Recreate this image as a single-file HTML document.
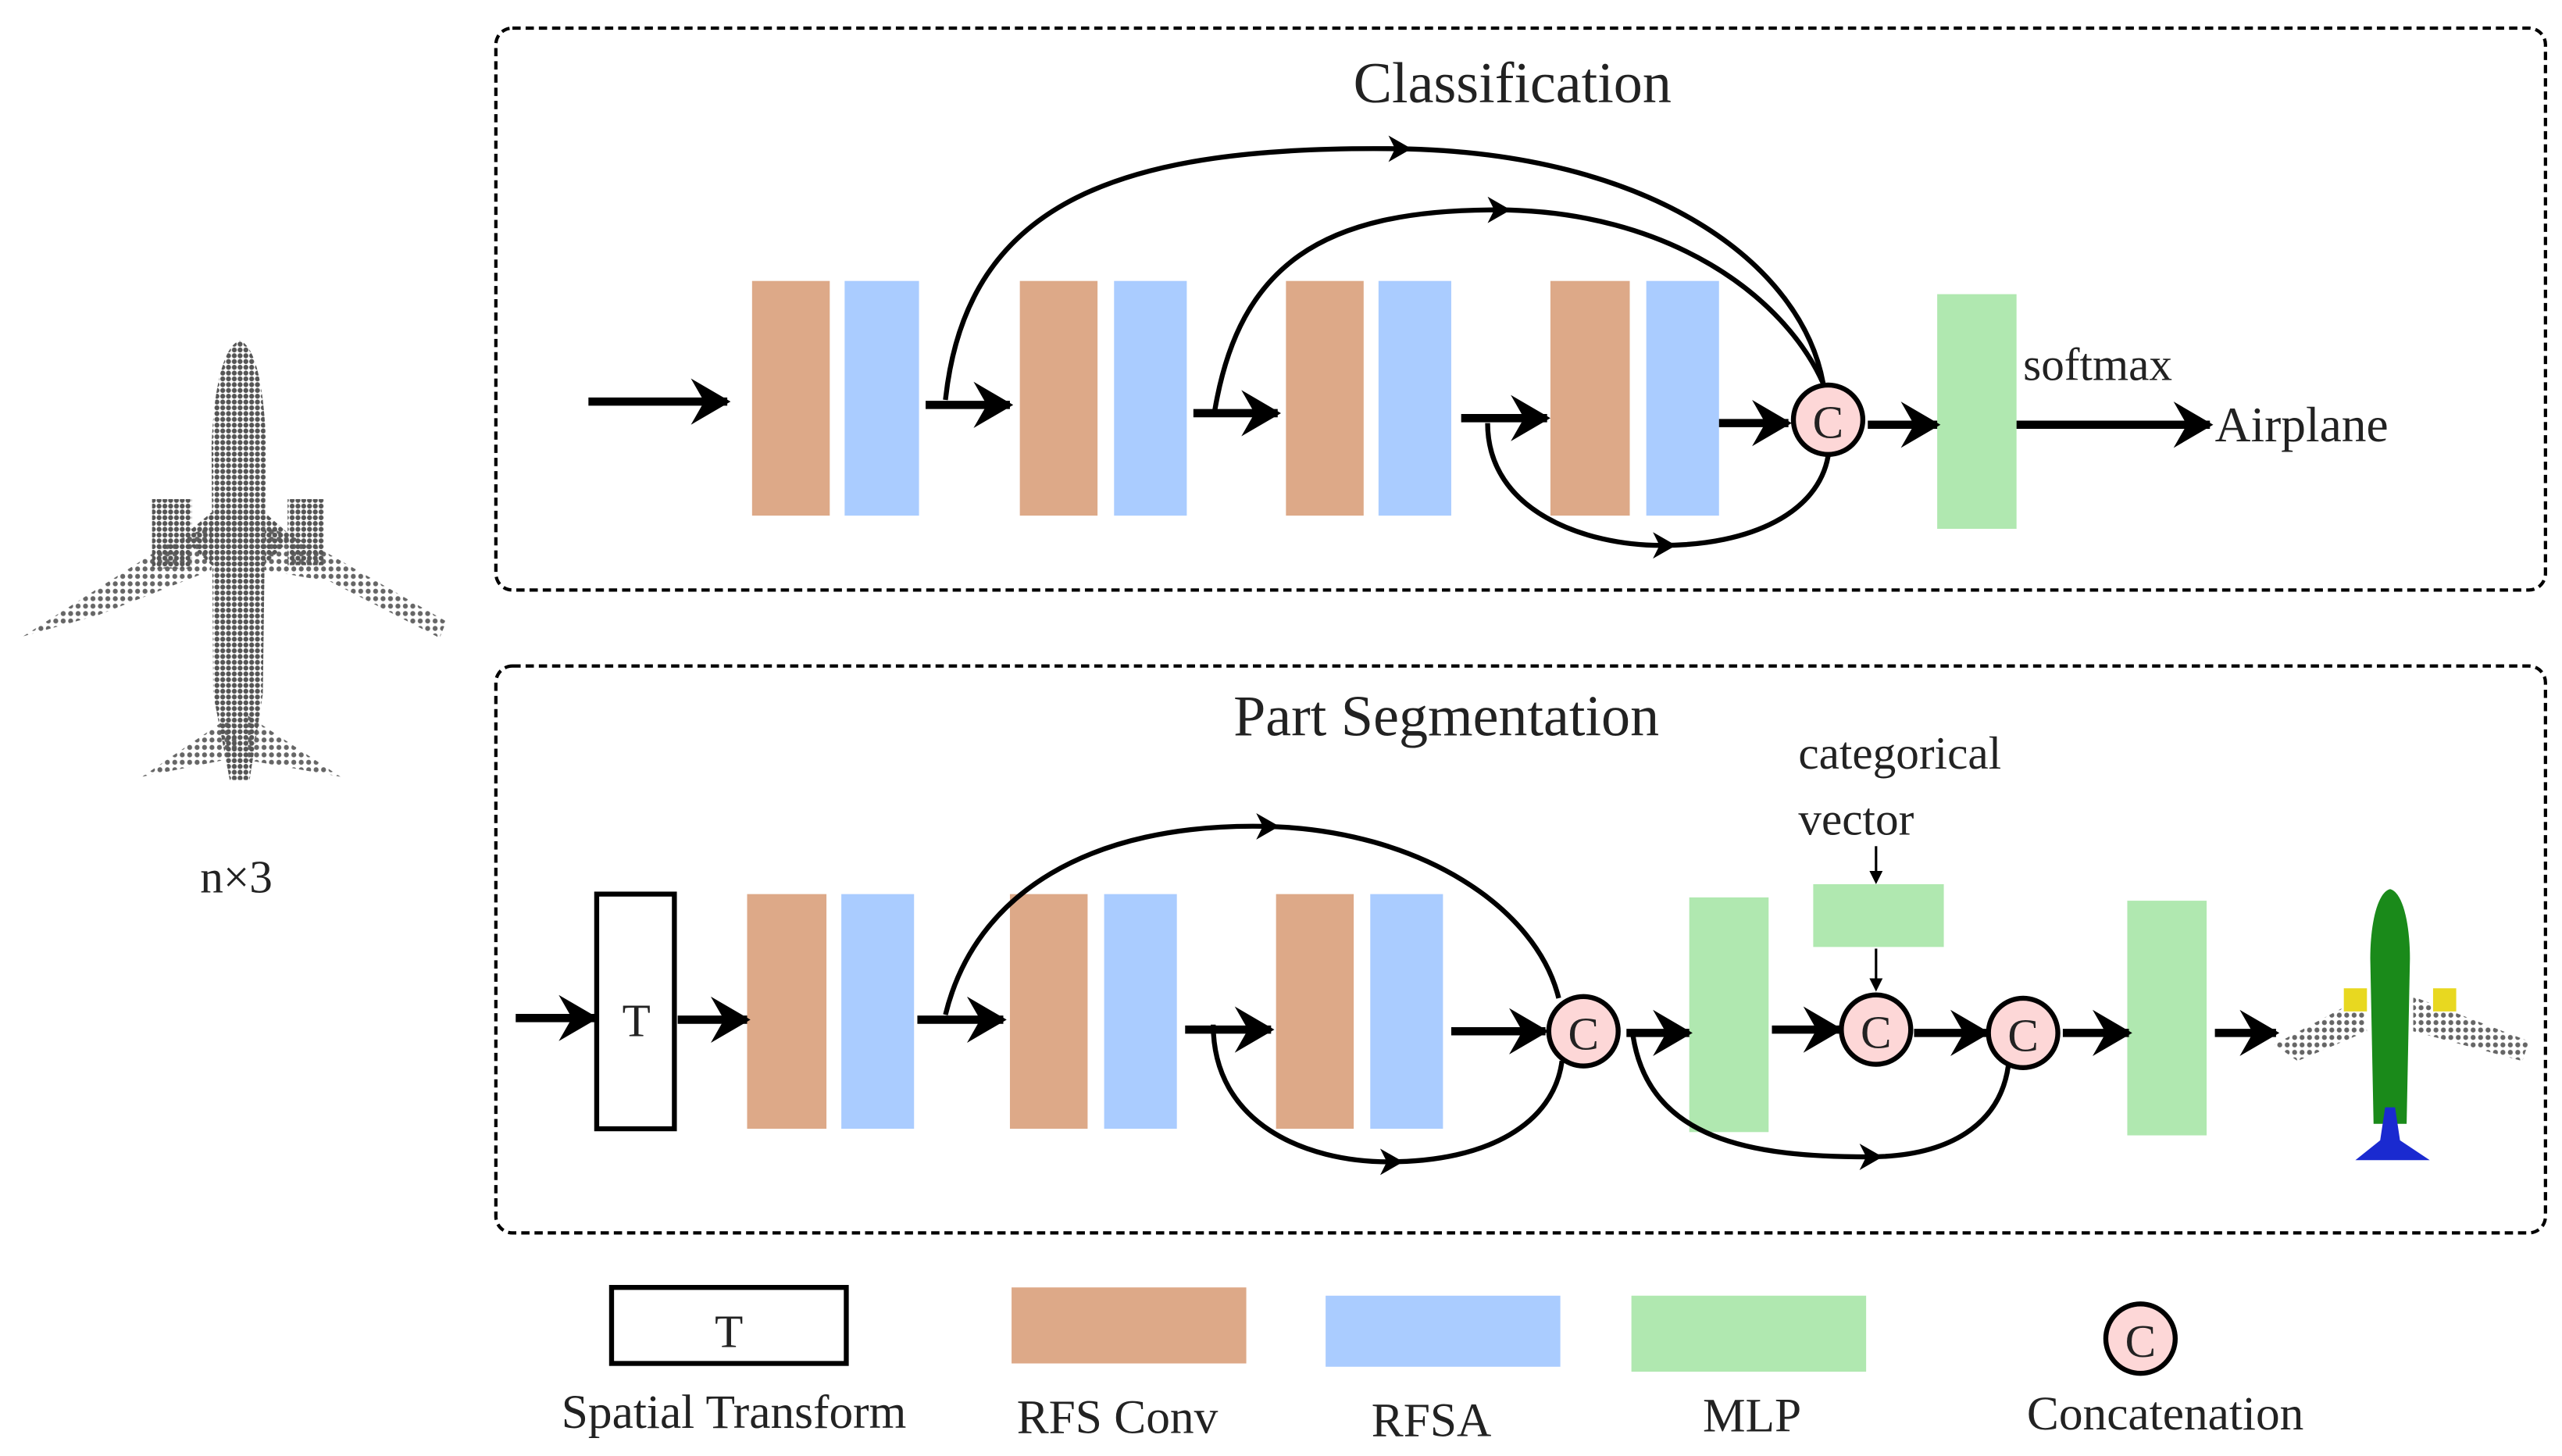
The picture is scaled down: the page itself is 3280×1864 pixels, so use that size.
<!DOCTYPE html>
<html><head><meta charset="utf-8"><style>
html,body{margin:0;padding:0;background:#fff;}
svg{display:block;}
text{font-family:"Liberation Serif",serif;fill:#222;}
</style></head><body>
<svg width="3280" height="1864" viewBox="0 0 1550 881" preserveAspectRatio="none" xmlns="http://www.w3.org/2000/svg">
<defs>
<marker id="ah" markerWidth="24" markerHeight="28" refX="22" refY="14" orient="auto" markerUnits="userSpaceOnUse">
<path d="M0,0 L24,14 L0,28 L8,14 Z" fill="#000"/></marker>
<pattern id="dg" width="3.5" height="3.5" patternUnits="userSpaceOnUse"><circle cx="1.75" cy="1.75" r="1.5" fill="#555"/></pattern>
<pattern id="dgl" width="4.5" height="4.5" patternUnits="userSpaceOnUse"><circle cx="2.25" cy="2.25" r="1.5" fill="#666"/></pattern>
</defs>

<!-- left airplane -->
<g>
<path d="M14,385 L100,330 L128,318 L128,345 L60,372 Z" fill="url(#dgl)"/>
<path d="M160,318 L190,330 L270,376 L266,386 L200,352 L160,345 Z" fill="url(#dgl)"/>
<rect x="92" y="302" width="24" height="42" fill="url(#dg)"/>
<rect x="174" y="302" width="22" height="40" fill="url(#dg)"/>
<path d="M128,310 L160,310 L177,325 L160,342 L128,342 L110,325 Z" fill="url(#dg)"/>
<path d="M86,470 L140,433 L145,458 Z" fill="url(#dgl)"/>
<path d="M150,433 L206,470 L150,460 Z" fill="url(#dgl)"/>
<path d="M145,206 C134,210 129,240 128,270 L129,420 L139,472 L151,472 L159,420 L161,270 C160,240 156,210 145,206 Z" fill="url(#dg)"/>
</g>
<text x="143" y="540" font-size="28" text-anchor="middle">n×3</text>

<!-- top box -->
<rect x="300" y="17" width="1240" height="340" rx="10" fill="none" stroke="#000" stroke-width="2" stroke-dasharray="5,3"/>
<text x="915" y="62" font-size="35" text-anchor="middle">Classification</text>
<g fill="#dda988"><rect x="455" y="170" width="47" height="142"/><rect x="617" y="170" width="47" height="142"/><rect x="778" y="170" width="47" height="142"/><rect x="938" y="170" width="48" height="142"/></g>
<g fill="#aaccff"><rect x="511" y="170" width="45" height="142"/><rect x="674" y="170" width="44" height="142"/><rect x="834" y="170" width="44" height="142"/><rect x="996" y="170" width="44" height="142"/></g>
<rect x="1172" y="178" width="48" height="142" fill="#b0e8b0"/>
<g stroke="#000" stroke-width="5" marker-end="url(#ah)" fill="none">
<line x1="356" y1="243" x2="440" y2="243"/>
<line x1="560" y1="245" x2="611" y2="245"/>
<line x1="722" y1="250" x2="773" y2="250"/>
<line x1="884" y1="253" x2="936" y2="253"/>
<line x1="1040" y1="256" x2="1082" y2="256"/>
<line x1="1130" y1="257" x2="1172" y2="257"/>
<line x1="1220" y1="257" x2="1337" y2="257"/>
</g>
<g stroke="#000" stroke-width="3" fill="none">
<path d="M572,242 C585,120 680,88 845,90 C1000,92 1090,160 1103,232"/>
<path d="M735,248 C750,160 800,127 905,127 C1010,127 1080,180 1103,232"/>
<path d="M900,256 C900,310 960,330 1005,330 C1060,330 1100,310 1106,276"/>
</g>
<g fill="#000">
<path d="M840,82 L854,90 L840,98 L844,90Z"/><path d="M900,119 L914,127 L900,135 L904,127Z"/><path d="M1000,322 L1014,330 L1000,338 L1004,330Z"/>
</g>
<circle cx="1106" cy="254" r="21" fill="#fdd7d7" stroke="#000" stroke-width="3"/>
<text x="1106" y="265" font-size="28" text-anchor="middle">C</text>
<text x="1224" y="230" font-size="28">softmax</text>
<text x="1340" y="267" font-size="30">Airplane</text>

<!-- bottom box -->
<rect x="300" y="403" width="1240" height="343" rx="10" fill="none" stroke="#000" stroke-width="2" stroke-dasharray="5,3"/>
<text x="875" y="445" font-size="35" text-anchor="middle">Part Segmentation</text>
<rect x="361" y="541" width="47" height="142" fill="#fff" stroke="#000" stroke-width="3"/>
<text x="385" y="627" font-size="28" text-anchor="middle">T</text>
<g fill="#dda988"><rect x="452" y="541" width="48" height="142"/><rect x="611" y="541" width="47" height="142"/><rect x="772" y="541" width="47" height="142"/></g>
<g fill="#aaccff"><rect x="509" y="541" width="44" height="142"/><rect x="668" y="541" width="44" height="142"/><rect x="829" y="541" width="44" height="142"/></g>
<g fill="#b0e8b0"><rect x="1022" y="543" width="48" height="142"/><rect x="1097" y="535" width="79" height="38"/><rect x="1287" y="545" width="48" height="142"/></g>
<g stroke="#000" stroke-width="3" fill="none">
<path d="M572,614 C590,540 660,498 765,500 C860,502 930,550 943,604"/>
<path d="M734,620 C734,680 790,703 840,703 C900,703 940,680 945,642"/>
<path d="M988,627 C998,690 1060,700 1130,700 C1180,700 1210,680 1215,645"/>
</g>
<g fill="#000">
<path d="M760,492 L774,500 L760,508 L764,500Z"/><path d="M835,695 L849,703 L835,711 L839,703Z"/><path d="M1125,692 L1139,700 L1125,708 L1129,700Z"/>
</g>
<g stroke="#000" stroke-width="5" marker-end="url(#ah)" fill="none">
<line x1="312" y1="616" x2="360" y2="616"/>
<line x1="410" y1="617" x2="452" y2="617"/>
<line x1="555" y1="617" x2="607" y2="617"/>
<line x1="717" y1="623" x2="769" y2="623"/>
<line x1="878" y1="624" x2="935" y2="624"/>
<line x1="984" y1="625" x2="1022" y2="625"/>
<line x1="1072" y1="623" x2="1113" y2="623"/>
<line x1="1158" y1="625" x2="1202" y2="625"/>
<line x1="1248" y1="625" x2="1288" y2="625"/>
<line x1="1340" y1="625" x2="1377" y2="625"/>
</g>
<g stroke="#000" stroke-width="1.5" fill="none">
<line x1="1135" y1="512" x2="1135" y2="531"/><line x1="1135" y1="574" x2="1135" y2="596"/>
</g>
<path d="M1131,527 L1135,535 L1139,527Z M1131,592 L1135,600 L1139,592Z" fill="#000"/>
<g>
<circle cx="958" cy="624" r="21" fill="#fdd7d7" stroke="#000" stroke-width="3"/>
<circle cx="1135" cy="623" r="21" fill="#fdd7d7" stroke="#000" stroke-width="3"/>
<circle cx="1224" cy="625" r="21" fill="#fdd7d7" stroke="#000" stroke-width="3"/>
</g>
<text x="958" y="635" font-size="28" text-anchor="middle">C</text>
<text x="1135" y="634" font-size="28" text-anchor="middle">C</text>
<text x="1224" y="636" font-size="28" text-anchor="middle">C</text>
<text x="1088" y="465" font-size="28">categorical</text>
<text x="1088" y="505" font-size="28">vector</text>

<!-- segmented airplane -->
<path d="M1376,632 L1430,603 L1432,624 L1390,642 Z" fill="url(#dgl)"/>
<path d="M1460,603 L1530,630 L1526,642 L1460,624 Z" fill="url(#dgl)"/>
<rect x="1418" y="598" width="14" height="14" fill="#e8d820"/>
<rect x="1472" y="598" width="14" height="14" fill="#e8d820"/>
<path d="M1446,538 C1438,540 1434,560 1434,580 L1436,680 L1456,680 L1458,580 C1458,560 1454,540 1446,538 Z" fill="#1a8a1a"/>
<path d="M1443,670 L1449,670 L1452,690 L1470,702 L1425,702 L1440,690 Z" fill="#1a2ad0"/>

<!-- legend -->
<rect x="370" y="779" width="142" height="46" fill="#fff" stroke="#000" stroke-width="3"/>
<text x="441" y="815" font-size="28" text-anchor="middle">T</text>
<rect x="612" y="779" width="142" height="46" fill="#dda988"/>
<rect x="802" y="784" width="142" height="43" fill="#aaccff"/>
<rect x="987" y="784" width="142" height="46" fill="#b0e8b0"/>
<circle cx="1295" cy="810" r="21" fill="#fdd7d7" stroke="#000" stroke-width="3"/>
<text x="1295" y="821" font-size="28" text-anchor="middle">C</text>
<g font-size="29" text-anchor="middle">
<text x="444" y="864">Spatial Transform</text>
<text x="676" y="867">RFS Conv</text>
<text x="866" y="869">RFSA</text>
<text x="1060" y="866">MLP</text>
<text x="1310" y="865">Concatenation</text>
</g>
</svg>
</body></html>
